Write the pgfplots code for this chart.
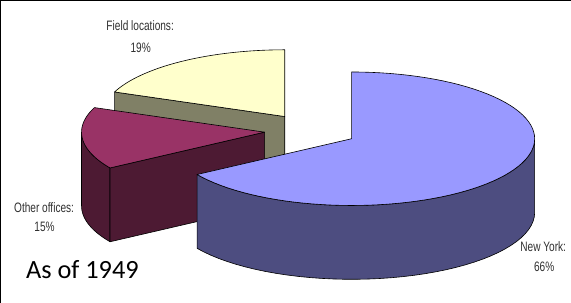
\documentclass[border=0pt]{standalone}
\usepackage{pgfplots}
\pgfplotsset{compat=1.18}
\usepackage{pgfplotstable}
\usepackage{fontspec}
\setmainfont{Liberation Sans}
\newfontfamily\lbl[FakeStretch=0.74]{Liberation Sans}
\newfontfamily\note{Carlito}

\definecolor{nytop}{HTML}{9999FF}
\definecolor{nyside}{HTML}{4D4D80}
\definecolor{ottop}{HTML}{993366}
\definecolor{otside}{HTML}{4D1A33}
\definecolor{fitop}{HTML}{FFFFCC}
\definecolor{fiside}{HTML}{808066}
\definecolor{lbltext}{HTML}{303030}

\pgfplotstableread{
name pct
NewYork 66
Other 15
Field 19
}\piedata

\pgfplotstablegetelem{0}{pct}\of\piedata \let\pNY\pgfplotsretval
\pgfplotstablegetelem{1}{pct}\of\piedata \let\pOT\pgfplotsretval
\pgfplotstablegetelem{2}{pct}\of\piedata \let\pFI\pgfplotsretval

% geometry of the 3D pie (in pixels of the 571x306 frame)
\def\pR{181}\def\pB{66}\def\pH{73}\def\pE{0.254}\def\pCx{313.8}\def\pCy{135.5}

% slice angles (clockwise from 12 o'clock)
\pgfmathsetmacro\NYa{90-3.6*\pNY}
\pgfmathsetmacro\NYb{90}
\pgfmathsetmacro\OTa{90-3.6*(\pNY+\pOT)}
\pgfmathsetmacro\OTb{\NYa}
\pgfmathsetmacro\FIa{90-3.6*(\pNY+\pOT+\pFI)}
\pgfmathsetmacro\FIb{\OTa}
% exploded centres
\pgfmathsetmacro\NYx{\pCx+\pE*\pR*cos((\NYa+\NYb)/2)}
\pgfmathsetmacro\NYy{\pCy-\pE*\pB*sin((\NYa+\NYb)/2)}
\pgfmathsetmacro\OTx{\pCx+\pE*\pR*cos((\OTa+\OTb)/2)}
\pgfmathsetmacro\OTy{\pCy-\pE*\pB*sin((\OTa+\OTb)/2)}
\pgfmathsetmacro\FIx{\pCx+\pE*\pR*cos((\FIa+\FIb)/2)}
\pgfmathsetmacro\FIy{\pCy-\pE*\pB*sin((\FIa+\FIb)/2)}
% radial face corners
\pgfmathsetmacro\FIpx{\FIx+\pR*cos(\FIb)}
\pgfmathsetmacro\FIpy{\FIy-\pB*sin(\FIb)}
\pgfmathsetmacro\FIpyb{\FIpy+\pH}
\pgfmathsetmacro\FIyb{\FIy+\pH}
\pgfmathsetmacro\OTpx{\OTx+\pR*cos(\OTb)}
\pgfmathsetmacro\OTpy{\OTy-\pB*sin(\OTb)}
\pgfmathsetmacro\OTpyb{\OTpy+\pH}
\pgfmathsetmacro\OTyb{\OTy+\pH}

\begin{document}
\begin{tikzpicture}
\begin{axis}[
  width=571pt, height=306pt, scale only axis,
  xmin=0, xmax=571, ymin=0, ymax=306, y dir=reverse,
  hide axis, clip=true,
  declare function={
    tt(\s,\a,\b)=(\s<=50)*(\a+(\b-\a)*\s/40)+(\s>50)*(\b-(\b-\a)*(\s-100)/40);
    off(\s)=(\s>50);
  },
  every axis plot/.append style={draw=black, line width=0.6pt, line join=round},
]
% frame
\addplot[draw=black, line width=1.2pt, fill=none] coordinates {(7,330) (7,7) (590,7)};

% ---- Field locations (back) ----
\addplot[fill=fiside] coordinates {(\FIx,\FIy) (\FIpx,\FIpy) (\FIpx,\FIpyb) (\FIx,\FIyb)} -- cycle;
\addplot[fill=fitop, domain=\FIa:\FIb, samples=60]
  ({\FIx+\pR*cos(x)}, {\FIy-\pB*sin(x)}) -- (axis cs:\FIx,\FIy) -- cycle;

% ---- Other offices ----
\addplot[fill=otside, samples at={0,1,...,40,100,101,...,140}]
  ({\OTx+\pR*cos(tt(x,-180,\OTb))}, {\OTy-\pB*sin(tt(x,-180,\OTb))+\pH*off(x)}) -- cycle;
\addplot[fill=otside] coordinates {(\OTx,\OTy) (\OTpx,\OTpy) (\OTpx,\OTpyb) (\OTx,\OTyb)} -- cycle;
\addplot[fill=ottop, domain=\OTa:\OTb, samples=60]
  ({\OTx+\pR*cos(x)}, {\OTy-\pB*sin(x)}) -- (axis cs:\OTx,\OTy) -- cycle;

% ---- New York (front) ----
\addplot[fill=nyside, samples at={0,1,...,40,100,101,...,140}]
  ({\NYx+\pR*cos(tt(x,\NYa,0))}, {\NYy-\pB*sin(tt(x,\NYa,0))+\pH*off(x)}) -- cycle;
\addplot[fill=nytop, domain=\NYa:\NYb, samples=80]
  ({\NYx+\pR*cos(x)}, {\NYy-\pB*sin(x)}) -- (axis cs:\NYx,\NYy) -- cycle;

% ---- labels ----
\begin{scope}[every node/.style={text=lbltext, font=\lbl\fontsize{13.5}{16}\selectfont, inner sep=0pt}]
\node at (axis cs:145,32) {Field locations:};
\node at (axis cs:145.5,54) {19\%};
\node at (axis cs:50,211.5) {Other offices:};
\node at (axis cs:50.5,231) {15\%};
\node at (axis cs:543.5,250.5) {New York:};
\node at (axis cs:544.5,270) {66\%};
\end{scope}
\node[anchor=base west, inner sep=0pt, font=\note\fontsize{26}{30}\selectfont] at (axis cs:32,282) {As of 1949};
\end{axis}
\end{tikzpicture}
\end{document}
